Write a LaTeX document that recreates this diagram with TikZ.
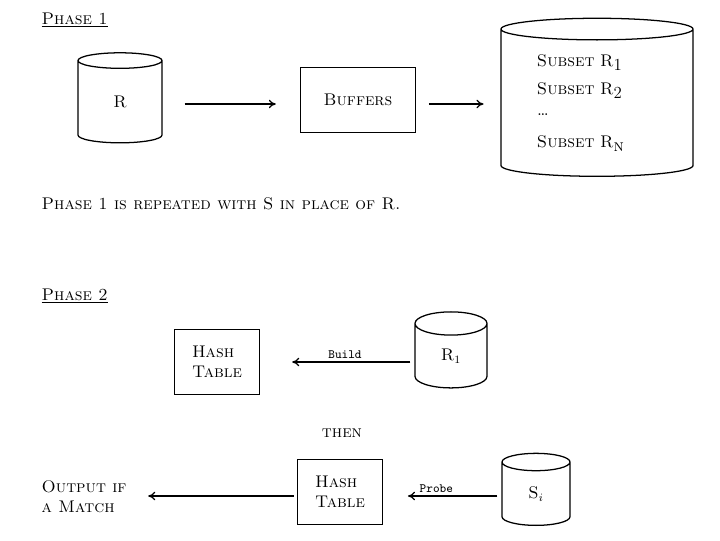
\documentclass[tikz,border=0pt]{standalone}
\usetikzlibrary{shapes.geometric,arrows.meta,positioning}
\newcommand{\pedice}[1]{\raisebox{-0.55ex}{#1}}
\begin{document}
\begin{tikzpicture}[
  x=0.025cm, y=-0.025cm,
  font=\large,
  filo/.style={draw=black, line width=0.9pt},
  freccia/.style={filo, -{To[length=5pt,width=6pt]}},
  scatola/.style={filo, rectangle, minimum width=2.875cm, minimum height=1.625cm},
  tabella/.style={filo, rectangle, minimum width=2.125cm, minimum height=1.625cm, align=left},
  cilindro/.style={filo, cylinder, shape border rotate=90, aspect=1.15, inner sep=0pt},
  etichetta/.style={inner sep=1pt},
  piccola/.style={inner sep=2pt, font=\ttfamily\small}
]
\useasboundingbox (0,0) rectangle (720,540);

%--------------------------------------------------------------
% Fase 1
%--------------------------------------------------------------
\node[etichetta, anchor=west] (fase1) at (40,20) {\underline{\textsc{Phase 1}}};
\node[cilindro, minimum width=2.1cm, minimum height=2.25cm] (r) at (120,102) {\textsc{R}};
\node[scatola] (buffer) at (358,100) {\textsc{Buffers}};
\node[cilindro, aspect=0.18, minimum width=4.8cm, minimum height=3.95cm, text width=3cm, align=left] (sottoinsiemi) at (597,103)
  {\textsc{Subset R}\pedice{1}\\[6pt] \textsc{Subset R}\pedice{2}\\[1pt] \textsc{\dots}\\[9pt] \textsc{Subset R}\pedice{\textsc{n}}};
\draw[freccia, shorten <=0.55cm, shorten >=0.6cm] (r.east |- 0,104) -- (buffer.west |- 0,104);
\draw[freccia, shorten <=0.32cm, shorten >=0.42cm] (buffer.east |- 0,104) -- (sottoinsiemi.west |- 0,104);
\node[etichetta, anchor=west] (ripeti) at (40,204) {\textsc{Phase 1 is repeated with S in place of R.}};

%--------------------------------------------------------------
% Fase 2
%--------------------------------------------------------------
\node[etichetta, anchor=west] (fase2) at (40,296) {\underline{\textsc{Phase 2}}};
% costruzione
\node[tabella] (hash1) at (217,362) {\textsc{Hash}\\ \textsc{Table}};
\node[cilindro, minimum width=1.8cm, minimum height=1.9cm] (r1) at (451,356) {\textsc{R}$_1$};
\draw[freccia, shorten <=0.1cm, shorten >=0.8cm] (r1.west |- 0,362) -- (hash1.east |- 0,362)
  node[piccola, pos=0.45, above] {Build};
\node[etichetta] (poi) at (342,433) {\textsc{then}};
% sondaggio
\node[tabella] (hash2) at (340,492) {\textsc{Hash}\\ \textsc{Table}};
\node[cilindro, minimum width=1.7cm, minimum height=1.8cm] (si) at (536,494) {\textsc{S}$_i$};
\node[etichetta, anchor=west, align=left] (uscita) at (40,497) {\textsc{Output if}\\ \textsc{a Match}};
\draw[freccia, shorten <=0.1cm, shorten >=0.62cm] (si.west |- 0,496) -- (hash2.east |- 0,496)
  node[piccola, pos=0.55, above] {Probe};
\draw[freccia, shorten <=0.08cm, shorten >=0.5cm] (hash2.west |- 0,496) -- (uscita.east |- 0,496);

\end{tikzpicture}
\end{document}
